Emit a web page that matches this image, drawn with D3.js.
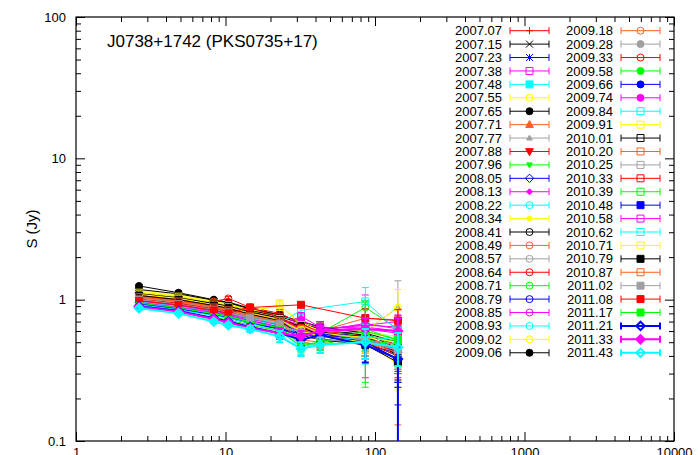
<!DOCTYPE html>
<html>
<head>
<meta charset="utf-8">
<script src="https://cdn.jsdelivr.net/npm/d3@7"></script>
<style>
  body { margin: 0; background: #fff; }
  text { font-family: "Liberation Sans", Arial, Helvetica, sans-serif; }
</style>
</head>
<body>
<div id="chart"></div>
<script>
// observing frequencies (GHz)
const freqs = [2.64, 4.85, 8.35, 10.45, 14.6, 23.05, 32, 43, 86.2, 142.3];

const epochs = [
  "2007.07", "2007.15", "2007.23", "2007.38", "2007.48", "2007.55", "2007.65", "2007.71", "2007.77", "2007.88",
  "2007.96", "2008.05", "2008.13", "2008.22", "2008.34", "2008.41", "2008.49", "2008.57", "2008.64", "2008.71",
  "2008.79", "2008.85", "2008.93", "2009.02", "2009.06",
  "2009.18", "2009.28", "2009.33", "2009.58", "2009.66", "2009.74", "2009.84", "2009.91", "2010.01", "2010.20",
  "2010.25", "2010.33", "2010.39", "2010.48", "2010.58", "2010.62", "2010.71", "2010.79", "2010.87", "2011.02",
  "2011.08", "2011.17", "2011.21", "2011.33", "2011.43"
];

// flux density (Jy), one row per epoch, one column per frequency
const flux = [
  [1.02, 0.95, 0.86, 0.83, 0.76, 0.70, 0.63, 0.60, null, null],
  [1.05, 0.97, 0.88, 0.84, 0.78, 0.72, 0.64, 0.59, 0.55, null],
  [0.98, 0.92, 0.83, 0.79, 0.73, 0.66, 0.60, 0.57, 0.52, 0.45],
  [1.00, 0.93, 0.85, 0.81, 0.75, 0.70, 0.66, 0.63, 0.64, 0.60],
  [0.97, 0.90, 0.82, 0.79, 0.72, 0.66, 0.61, null, 0.58, 0.55],
  [1.10, 1.04, 0.94, 0.90, 0.83, 0.76, 0.68, 0.62, 0.60, 0.52],
  [1.25, 1.12, 1.00, 0.96, 0.87, 0.78, 0.70, 0.64, 0.58, 0.50],
  [1.08, 1.00, 0.90, 0.86, 0.80, 0.72, 0.64, 0.58, 0.50, 0.45],
  [1.04, 0.97, 0.88, 0.85, 0.78, 0.71, 0.62, 0.56, 0.60, 0.88],
  [1.06, 0.99, 0.89, 0.86, 0.79, 0.72, 0.65, 0.60, 0.56, 0.48],
  [1.00, 0.93, 0.84, 0.81, 0.75, 0.68, 0.60, 0.55, 0.62, 0.52],
  [0.95, 0.88, 0.80, 0.77, 0.71, 0.64, 0.58, 0.53, 0.48, 0.42],
  [1.00, 0.93, 0.86, 0.82, 0.76, 0.70, 0.64, 0.62, 0.66, 0.70],
  [0.96, 0.89, 0.81, 0.78, 0.72, 0.66, 0.60, 0.57, 0.55, 0.50],
  [1.15, 1.08, 0.97, 0.93, 0.85, 0.78, 0.70, 0.63, 0.58, 0.55],
  [1.12, 1.05, 0.95, 0.91, 0.84, 0.76, 0.68, 0.62, 0.56, 0.40],
  [1.08, 1.01, 0.92, 0.88, 0.81, 0.74, 0.66, 0.60, 0.74, 0.72],
  [1.03, 0.96, 0.87, 0.84, 0.77, 0.70, 0.63, 0.58, 0.54, 0.46],
  [1.01, 0.94, 0.86, 0.83, 0.77, 0.70, 0.62, 0.56, 0.52, 0.42],
  [0.99, 0.92, 0.84, 0.81, 0.74, 0.67, 0.60, 0.58, 0.88, 0.62],
  [0.93, 0.86, 0.78, 0.75, 0.69, 0.63, 0.57, 0.55, 0.50, 0.40],
  [0.97, 0.90, 0.82, 0.79, 0.73, 0.67, 0.60, 0.60, 0.68, 0.62],
  [0.94, 0.87, 0.79, 0.76, 0.70, 0.64, 0.58, 0.55, 0.52, 0.48],
  [1.13, 1.06, 0.96, 0.92, 0.84, 0.90, 0.69, 0.60, 0.60, 0.88],
  [1.18, 1.10, 0.99, 0.95, 0.86, 0.78, 0.70, 0.64, 0.58, 0.45],
  [1.05, 0.98, 0.89, 0.85, 0.78, 0.71, 0.62, 0.56, 0.55, 0.45],
  [1.02, 0.95, 0.86, 0.83, 0.76, 0.69, 0.61, 0.55, 0.52, 0.48],
  [1.00, 0.94, 0.97, 1.02, 0.88, 0.80, 0.68, 0.58, 0.55, 0.43],
  [0.95, 0.88, 0.80, 0.77, 0.70, 0.63, 0.50, 0.48, 0.56, 0.50],
  [0.92, 0.85, 0.78, 0.75, 0.68, 0.62, 0.55, 0.58, 0.55, 0.42],
  [0.96, 0.89, 0.81, 0.78, 0.71, 0.64, 0.72, 0.62, 0.66, 0.64],
  [0.97, 0.90, 0.83, 0.80, 0.74, 0.68, 0.84, null, 0.97, 0.60],
  [1.12, 1.05, 0.95, 0.91, 0.82, 0.92, 0.66, 0.58, 0.54, 0.50],
  [1.10, 1.03, 0.94, 0.90, 0.82, 0.74, 0.64, 0.56, 0.50, 0.38],
  [1.06, 0.99, 0.90, 0.86, 0.79, 0.72, 0.52, 0.50, 0.52, 0.44],
  [1.03, 0.96, 0.88, 0.84, 0.77, 0.70, 0.60, 0.55, 0.52, 0.46],
  [1.00, 0.94, 0.86, 0.82, 0.88, 0.75, 0.62, 0.52, 0.50, 0.40],
  [0.94, 0.87, 0.79, 0.76, 0.69, 0.63, 0.48, 0.50, 0.52, 0.48],
  [0.93, 0.86, 0.78, 0.74, 0.68, 0.62, 0.57, 0.58, 0.50, 0.38],
  [0.98, 0.91, 0.83, 0.80, 0.74, 0.66, 0.76, 0.64, 0.62, 0.58],
  [0.92, 0.85, 0.77, 0.74, 0.68, 0.60, 0.46, 0.50, 0.55, 0.52],
  [1.09, 1.02, 0.92, 0.88, 0.80, 0.72, 0.60, 0.55, 0.50, 0.35],
  [1.07, 1.00, 0.91, 0.87, 0.79, 0.71, 0.56, 0.52, 0.48, 0.36],
  [1.04, 0.97, 0.88, 0.84, 0.77, 0.70, 0.50, 0.48, 0.50, 0.42],
  [1.00, 0.93, 0.85, 0.81, 0.74, 0.67, 0.58, 0.52, 0.50, 0.44],
  [0.98, 0.92, 0.84, 0.80, 0.88, null, 0.92, null, 0.74, 0.71],
  [0.90, 0.83, 0.75, 0.72, 0.66, 0.60, 0.47, 0.50, 0.60, 0.52],
  [0.90, 0.83, 0.74, 0.70, 0.64, 0.58, 0.52, 0.56, 0.48, 0.38],
  [0.89, 0.82, 0.73, 0.69, 0.63, 0.58, 0.55, 0.60, 0.62, 0.60],
  [0.87, 0.80, 0.70, 0.66, 0.62, 0.55, 0.45, 0.48, 0.50, 0.46]
];

// 1-sigma errors (Jy)
const fluxErr = [
  [0.02, 0.02, 0.02, 0.02, 0.03, 0.05, 0.04, 0.06, null, null],
  [0.02, 0.02, 0.02, 0.02, 0.03, 0.05, 0.04, 0.05, 0.10, null],
  [0.02, 0.02, 0.02, 0.02, 0.03, 0.04, 0.05, 0.06, 0.12, 0.10],
  [0.02, 0.02, 0.02, 0.02, 0.03, 0.05, 0.05, 0.06, 0.10, 0.12],
  [0.02, 0.02, 0.02, 0.02, 0.03, 0.04, 0.04, null, 0.12, 0.14],
  [0.03, 0.02, 0.02, 0.03, 0.03, 0.05, 0.05, 0.07, 0.10, 0.15],
  [0.03, 0.03, 0.02, 0.02, 0.03, 0.05, 0.05, 0.06, 0.08, 0.10],
  [0.02, 0.02, 0.02, 0.02, 0.03, 0.05, 0.05, 0.06, 0.10, 0.12],
  [0.02, 0.02, 0.02, 0.02, 0.03, 0.04, 0.05, 0.06, 0.12, 0.48],
  [0.02, 0.02, 0.02, 0.02, 0.03, 0.05, 0.04, 0.05, 0.10, 0.12],
  [0.02, 0.02, 0.02, 0.02, 0.03, 0.04, 0.05, 0.05, 0.36, 0.12],
  [0.02, 0.02, 0.02, 0.02, 0.03, 0.04, 0.04, 0.05, 0.10, 0.10],
  [0.02, 0.02, 0.02, 0.02, 0.03, 0.05, 0.05, 0.06, 0.12, 0.15],
  [0.02, 0.02, 0.02, 0.02, 0.03, 0.04, 0.04, 0.05, 0.10, 0.12],
  [0.03, 0.02, 0.02, 0.02, 0.03, 0.05, 0.05, 0.06, 0.10, 0.12],
  [0.03, 0.02, 0.02, 0.02, 0.03, 0.05, 0.05, 0.06, 0.10, 0.13],
  [0.02, 0.02, 0.02, 0.02, 0.03, 0.05, 0.05, 0.06, 0.12, 0.14],
  [0.02, 0.02, 0.02, 0.02, 0.03, 0.05, 0.05, 0.06, 0.10, 0.12],
  [0.02, 0.02, 0.02, 0.02, 0.03, 0.05, 0.05, 0.06, 0.10, 0.12],
  [0.02, 0.02, 0.02, 0.02, 0.03, 0.05, 0.05, 0.06, 0.10, 0.12],
  [0.02, 0.02, 0.02, 0.02, 0.03, 0.05, 0.05, 0.06, 0.10, 0.22],
  [0.02, 0.02, 0.02, 0.02, 0.03, 0.05, 0.05, 0.06, 0.40, 0.15],
  [0.02, 0.02, 0.02, 0.02, 0.03, 0.05, 0.05, 0.06, 0.17, 0.12],
  [0.03, 0.02, 0.02, 0.02, 0.03, 0.08, 0.05, 0.06, 0.12, 0.30],
  [0.03, 0.03, 0.02, 0.02, 0.03, 0.05, 0.05, 0.06, 0.10, 0.12],
  [0.02, 0.02, 0.02, 0.02, 0.03, 0.05, 0.05, 0.06, 0.12, 0.32],
  [0.02, 0.02, 0.02, 0.02, 0.03, 0.05, 0.05, 0.06, 0.12, 0.12],
  [0.02, 0.02, 0.02, 0.03, 0.03, 0.05, 0.05, 0.06, 0.10, 0.12],
  [0.02, 0.02, 0.02, 0.02, 0.03, 0.05, 0.05, 0.06, 0.12, 0.12],
  [0.02, 0.02, 0.02, 0.02, 0.03, 0.05, 0.05, 0.10, 0.12, 0.12],
  [0.02, 0.02, 0.02, 0.02, 0.03, 0.05, 0.06, 0.06, 0.12, 0.14],
  [0.02, 0.02, 0.02, 0.02, 0.03, 0.05, 0.06, null, 0.25, 0.12],
  [0.03, 0.02, 0.02, 0.02, 0.03, 0.08, 0.05, 0.06, 0.12, 0.12],
  [0.02, 0.02, 0.02, 0.02, 0.03, 0.05, 0.05, 0.06, 0.10, 0.12],
  [0.02, 0.02, 0.02, 0.02, 0.03, 0.05, 0.12, 0.06, 0.12, 0.12],
  [0.02, 0.02, 0.02, 0.02, 0.03, 0.05, 0.05, 0.06, 0.12, 0.12],
  [0.02, 0.02, 0.02, 0.02, 0.03, 0.05, 0.05, 0.08, 0.12, 0.12],
  [0.02, 0.02, 0.02, 0.02, 0.03, 0.05, 0.05, 0.06, 0.12, 0.12],
  [0.02, 0.02, 0.02, 0.02, 0.03, 0.05, 0.05, 0.06, 0.12, 0.12],
  [0.02, 0.02, 0.02, 0.02, 0.03, 0.05, 0.05, 0.06, 0.12, 0.14],
  [0.02, 0.02, 0.02, 0.02, 0.03, 0.05, 0.05, 0.06, 0.12, 0.12],
  [0.02, 0.02, 0.02, 0.02, 0.03, 0.05, 0.05, 0.06, 0.10, 0.12],
  [0.02, 0.02, 0.02, 0.02, 0.03, 0.05, 0.05, 0.06, 0.10, 0.12],
  [0.02, 0.02, 0.02, 0.02, 0.03, 0.05, 0.05, 0.06, 0.10, 0.12],
  [0.02, 0.02, 0.02, 0.02, 0.03, 0.05, 0.05, 0.06, 0.10, 0.12],
  [0.02, 0.02, 0.02, 0.02, 0.03, null, 0.04, null, 0.12, 0.14],
  [0.02, 0.02, 0.02, 0.02, 0.03, 0.05, 0.05, 0.06, 0.36, 0.12],
  [0.02, 0.02, 0.02, 0.02, 0.03, 0.05, 0.05, 0.06, 0.12, 0.36],
  [0.02, 0.02, 0.02, 0.02, 0.03, 0.05, 0.05, 0.06, 0.12, 0.14],
  [0.02, 0.02, 0.02, 0.02, 0.03, 0.05, 0.05, 0.06, 0.12, 0.12]
];

const xTicks = [1, 10, 100, 1000, 10000];
const yTicks = [0.1, 1, 10, 100];

// line colours / point types (gnuplot style cycle)
const colors = [
  "#ff0000", "#000000", "#0000ff", "#ff00ff", "#00ffff", "#ffff00", "#000000", "#ff6020", "#a0a0a0", "#ff0000",
  "#00ff00", "#0000ff", "#ff00ff", "#00ffff", "#ffff00", "#000000", "#ff6020", "#a0a0a0", "#ff0000", "#00ff00",
  "#0000ff", "#ff00ff", "#00ffff", "#ffff00", "#000000",
  "#ff6020", "#a0a0a0", "#ff0000", "#00ff00", "#0000ff", "#ff00ff", "#00ffff", "#ffff00", "#000000", "#ff6020",
  "#a0a0a0", "#ff0000", "#00ff00", "#0000ff", "#ff00ff", "#00ffff", "#ffff00", "#000000", "#ff6020", "#a0a0a0",
  "#ff0000", "#00ff00", "#0000ff", "#ff00ff", "#00ffff"
];
const markers = [
  "plus", "cross", "star", "sqOpen", "sqFill", "circOpen", "circFill", "triUp", "triUpS", "triDown",
  "triDownS", "diaOpen", "diaFillS", "circOpen", "circFillS", "circOpen", "circOpen", "circOpen", "circOpen", "circOpen",
  "circOpen", "circOpen", "circOpen", "circOpen", "circFill",
  "circOpen", "circFill", "circOpen", "circFill", "circFill", "circFill", "sqOpen", "sqOpen", "sqOpen", "sqOpen",
  "sqOpen", "sqOpen", "sqOpen", "sqFill", "sqOpen", "sqOpen", "sqOpen", "sqFill", "sqOpen", "sqFill",
  "sqFill", "sqFill", "diaOpen", "diaFill", "diaOpen"
];

const width = 698, height = 455;
const plot = { left: 76, right: 674, top: 17, bottom: 441 };

const svg = d3.select("#chart").append("svg")
  .attr("width", width)
  .attr("height", height);

const x = d3.scaleLog().domain([1, 10000]).range([plot.left, plot.right]);
const y = d3.scaleLog().domain([0.1, 100]).range([plot.bottom, plot.top]);

// minor ticks 2..9 in each decade
function minors(dom) {
  const out = [];
  for (let d = dom[0]; d < dom[1]; d *= 10) {
    for (let k = 2; k <= 9; k++) out.push(d * k);
  }
  return out;
}

function addAxis(axisFn, scale, pos, values, size, labels) {
  const a = axisFn(scale).tickValues(values).tickSize(-size).tickSizeOuter(0)
    .tickFormat(labels ? d3.format("~g") : "");
  const g = svg.append("g").attr("transform", pos).call(a);
  g.select(".domain").remove();
  g.selectAll(".tick line").attr("stroke", "#000").attr("stroke-width", 1);
  return g;
}

const xb = addAxis(d3.axisBottom, x, `translate(0,${plot.bottom})`, xTicks, 9, true);
xb.call(g => g.selectAll("text").attr("font-size", 13).attr("fill", "#000").attr("y", 7));
addAxis(d3.axisBottom, x, `translate(0,${plot.bottom})`, minors(x.domain()), 5, false);
addAxis(d3.axisTop, x, `translate(0,${plot.top})`, xTicks, 9, false);
addAxis(d3.axisTop, x, `translate(0,${plot.top})`, minors(x.domain()), 5, false);

const yl = addAxis(d3.axisLeft, y, `translate(${plot.left},0)`, yTicks, 9, true);
yl.call(g => g.selectAll("text").attr("font-size", 13).attr("fill", "#000").attr("x", -10));
addAxis(d3.axisLeft, y, `translate(${plot.left},0)`, minors(y.domain()), 5, false);
addAxis(d3.axisRight, y, `translate(${plot.right},0)`, yTicks, 9, false);
addAxis(d3.axisRight, y, `translate(${plot.right},0)`, minors(y.domain()), 5, false);

svg.append("rect")
  .attr("x", plot.left).attr("y", plot.top)
  .attr("width", plot.right - plot.left).attr("height", plot.bottom - plot.top)
  .attr("fill", "none").attr("stroke", "#000").attr("stroke-width", 1.2);

// y label
svg.append("text")
  .attr("transform", `translate(37,${(plot.top + plot.bottom) / 2}) rotate(-90)`)
  .attr("text-anchor", "middle")
  .attr("font-size", 15)
  .text("S (Jy)");

// source name
svg.append("text")
  .attr("x", 107).attr("y", 47)
  .attr("font-size", 17)
  .text("J0738+1742 (PKS0735+17)");

svg.append("clipPath").attr("id", "clip")
  .append("rect")
  .attr("x", plot.left).attr("y", plot.top)
  .attr("width", plot.right - plot.left).attr("height", plot.bottom - plot.top);

function drawMarker(g, type, cx, cy, color, lw) {
  const s = 3.5;
  const filled = /Fill|triUp|triDown/.test(type) && !/Open/.test(type);
  const small = /S$/.test(type);
  const r = small ? 2.5 : s;
  let d;
  if (type === "plus") d = `M${cx - s},${cy}H${cx + s}M${cx},${cy - s}V${cy + s}`;
  else if (type === "cross") d = `M${cx - s},${cy - s}L${cx + s},${cy + s}M${cx - s},${cy + s}L${cx + s},${cy - s}`;
  else if (type === "star") d = `M${cx - s},${cy}H${cx + s}M${cx},${cy - s}V${cy + s}M${cx - s},${cy - s}L${cx + s},${cy + s}M${cx - s},${cy + s}L${cx + s},${cy - s}`;
  else if (type.startsWith("sq")) d = `M${cx - r},${cy - r}H${cx + r}V${cy + r}H${cx - r}Z`;
  else if (type.startsWith("circ")) d = `M${cx - r},${cy}A${r},${r} 0 1,0 ${cx + r},${cy}A${r},${r} 0 1,0 ${cx - r},${cy}Z`;
  else if (type.startsWith("triUp")) d = `M${cx},${cy - r * 1.2}L${cx + r * 1.1},${cy + r * 0.8}L${cx - r * 1.1},${cy + r * 0.8}Z`;
  else if (type.startsWith("triDown")) d = `M${cx},${cy + r * 1.2}L${cx + r * 1.1},${cy - r * 0.8}L${cx - r * 1.1},${cy - r * 0.8}Z`;
  else if (type.startsWith("dia")) d = `M${cx},${cy - r * 1.2}L${cx + r * 1.2},${cy}L${cx},${cy + r * 1.2}L${cx - r * 1.2},${cy}Z`;
  g.append("path")
    .attr("d", d)
    .attr("fill", filled ? color : "none")
    .attr("stroke", color)
    .attr("stroke-width", lw);
}

const dataG = svg.append("g").attr("clip-path", "url(#clip)");
const line = d3.line().x(d => x(d.f)).y(d => y(d.v));

epochs.forEach((ep, i) => {
  const pts = freqs.map((f, j) => ({ f, v: flux[i][j], e: fluxErr[i][j] }))
    .filter(d => d.v != null);
  const color = colors[i];
  const lw = i >= 47 ? 2 : 1;
  const g = dataG.append("g");

  g.append("path")
    .attr("d", line(pts))
    .attr("fill", "none")
    .attr("stroke", color)
    .attr("stroke-width", lw);

  pts.forEach(d => {
    if (d.e == null) return;
    const px = x(d.f);
    const hi = y(d.v + d.e);
    const lo = d.v - d.e > 0.01 ? y(d.v - d.e) : plot.bottom + 5;
    g.append("path")
      .attr("d", `M${px},${lo}V${hi}M${px - 3.5},${hi}H${px + 3.5}M${px - 3.5},${lo}H${px + 3.5}`)
      .attr("fill", "none")
      .attr("stroke", color)
      .attr("stroke-width", lw);
  });

  pts.forEach(d => drawMarker(g, markers[i], x(d.f), y(d.v), color, lw));
});

// legend, two columns of 25
const legend = svg.append("g");
epochs.forEach((ep, i) => {
  const col = Math.floor(i / 25), row = i % 25;
  const ly = 30.7 + row * 13.42;
  const lx = col === 0 ? 502 : 613;
  const color = colors[i];
  const lw = i >= 47 ? 2 : 1;
  legend.append("text")
    .attr("x", lx).attr("y", ly)
    .attr("dy", "0.35em")
    .attr("text-anchor", "end")
    .attr("font-size", 13)
    .text(ep);
  const x0 = lx + 8, x1 = lx + 47;
  legend.append("path")
    .attr("d", `M${x0},${ly}H${x1}M${x0},${ly - 3.5}V${ly + 3.5}M${x1},${ly - 3.5}V${ly + 3.5}`)
    .attr("fill", "none")
    .attr("stroke", color)
    .attr("stroke-width", lw);
  drawMarker(legend, markers[i], (x0 + x1) / 2, ly, color, lw);
});
</script>
</body>
</html>
